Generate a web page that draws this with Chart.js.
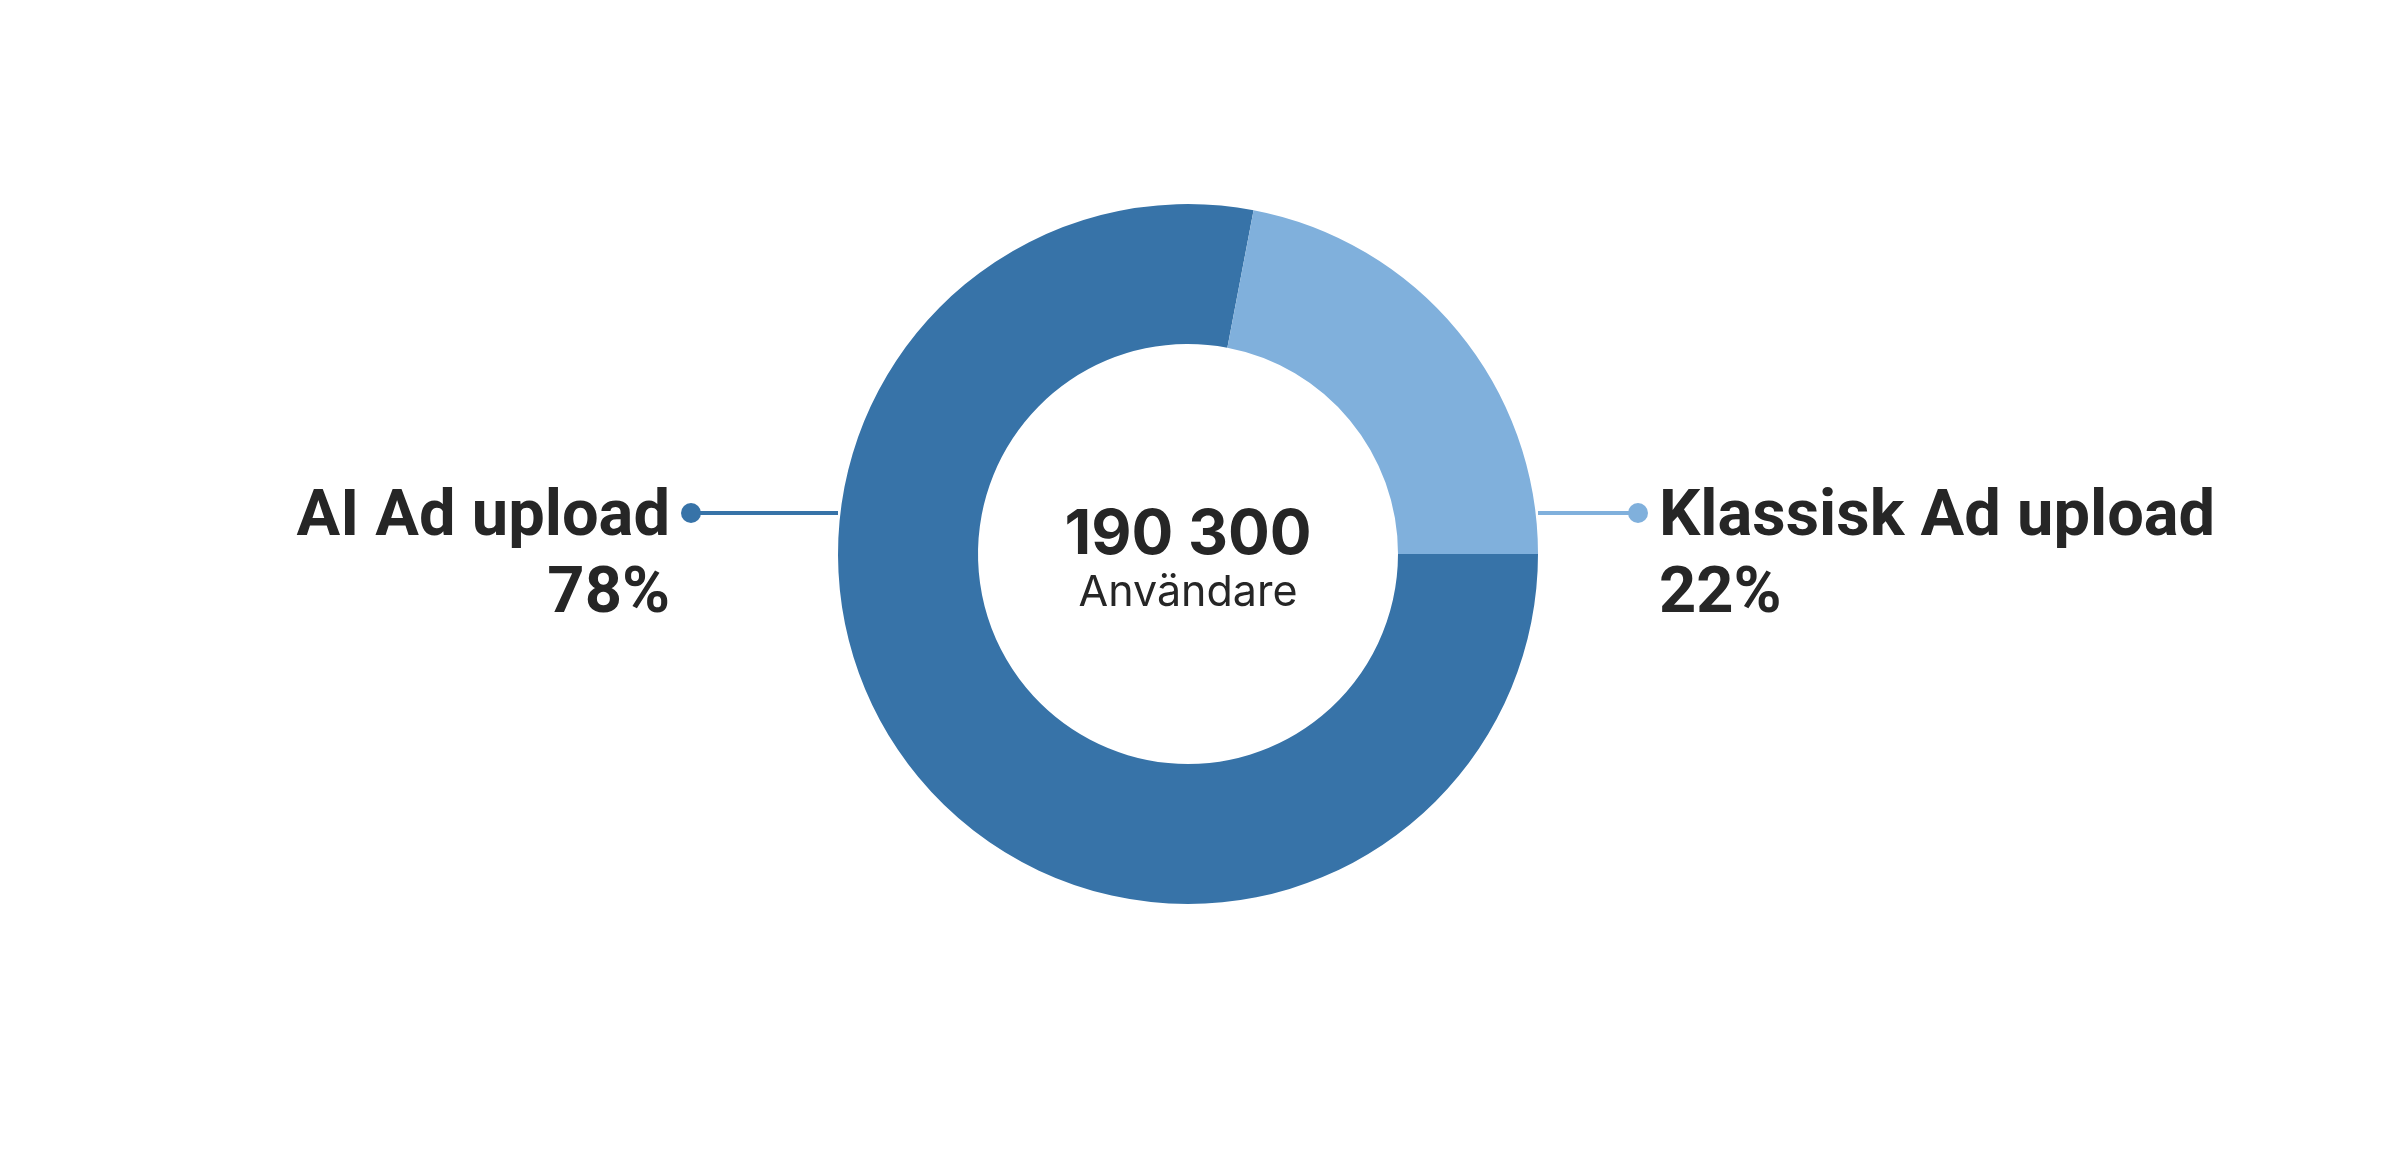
<!DOCTYPE html>
<html>
<head>
<meta charset="utf-8">
<script src="https://cdn.jsdelivr.net/npm/chart.js@4"></script>
<style>
  html, body { margin: 0; padding: 0; background: #fff; }
  #wrap { width: 2398px; height: 1152px; }
</style>
</head>
<body>
<div id="wrap"><canvas id="chart"></canvas></div>
<script>
const labels = ['AI Ad upload', 'Klassisk Ad upload'];
const shares = [78, 22];
const colors = ['#3773a8', '#80b0dc'];
const totalUsers = '190 300';
const totalLabel = 'Användare';

const textColor = '#262626';

// center text + leader labels
const labelPlugin = {
    id: 'labelPlugin',
    afterDraw(chart) {
        const ctx = chart.ctx;
        const arc = chart.getDatasetMeta(0).data[0];
        const cx = arc.x, cy = arc.y, r = arc.outerRadius;

        ctx.save();
        ctx.fillStyle = textColor;
        ctx.textAlign = 'center';
        ctx.textBaseline = 'alphabetic';
        ctx.font = '700 62px Inter';
        ctx.fillText(totalUsers, cx, cy);
        ctx.font = '400 43px Inter';
        ctx.fillText(totalLabel, cx, cy + 52);

        const lineY = cy - 41;
        const sides = [
            { dotX: cx - r - 147, edge: cx - r, align: 'right', textX: cx - r - 168 },
            { dotX: cx + r + 100, edge: cx + r, align: 'left', textX: cx + r + 121 }
        ];
        sides.forEach((s, i) => {
            ctx.strokeStyle = colors[i];
            ctx.lineWidth = 4;
            ctx.beginPath();
            ctx.moveTo(s.dotX, lineY);
            ctx.lineTo(s.edge, lineY);
            ctx.stroke();
            ctx.fillStyle = colors[i];
            ctx.beginPath();
            ctx.arc(s.dotX, lineY, 10, 0, Math.PI * 2);
            ctx.fill();

            ctx.fillStyle = textColor;
            ctx.textAlign = s.align;
            ctx.font = '700 65px Roboto';
            ctx.fillText(labels[i], s.textX, cy - 19);
            ctx.fillText(shares[i] + '%', s.textX, cy + 58);
        });
        ctx.restore();
    }
};

new Chart(document.getElementById('chart'), {
    type: 'doughnut',
    data: {
        labels: labels,
        datasets: [{
            data: shares,
            backgroundColor: colors,
            borderWidth: 0,
            hoverOffset: 0
        }]
    },
    options: {
        responsive: true,
        maintainAspectRatio: false,
        animation: false,
        cutout: '60%',
        rotation: 90,
        layout: {
            padding: { top: 204, bottom: 248, left: 0, right: 22 }
        },
        plugins: {
            legend: { display: false },
            tooltip: { enabled: false }
        }
    },
    plugins: [labelPlugin]
});
</script>
</body>
</html>
